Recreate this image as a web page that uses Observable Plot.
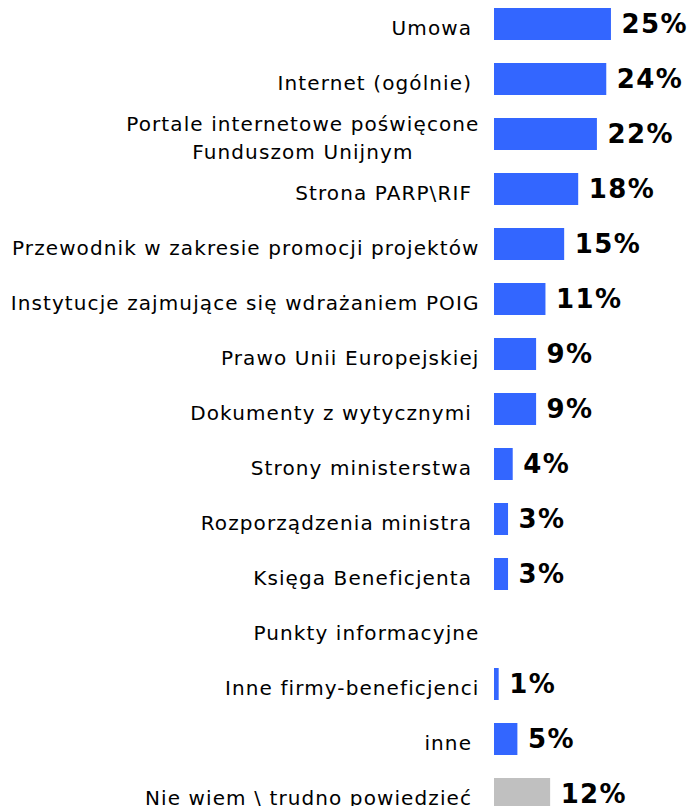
<!DOCTYPE html>
<html><head><meta charset="utf-8">
<script src="https://cdn.jsdelivr.net/npm/d3@7"></script>
<script src="https://cdn.jsdelivr.net/npm/@observablehq/plot@0.6"></script>
<style>
body{margin:0;background:#fff;}
#chart svg{font-family:"DejaVu Sans",Verdana,sans-serif;}
#chart [aria-label="y-axis tick label"] text{letter-spacing:1.1px;}
#chart [aria-label="text"] text{letter-spacing:1.4px;}
</style>
</head><body><div id="chart"></div>
<script>
const categories = [
  "Umowa ",
  "Internet (ogólnie) ",
  "Portale internetowe poświęcone\nFunduszom Unijnym",
  "Strona PARP\\RIF ",
  "Przewodnik w zakresie promocji projektów",
  "Instytucje zajmujące się wdrażaniem POIG",
  "Prawo Unii Europejskiej",
  "Dokumenty z wytycznymi ",
  "Strony ministerstwa ",
  "Rozporządzenia ministra ",
  "Księga Beneficjenta ",
  "Punkty informacyjne",
  "Inne firmy-beneficjenci",
  "inne ",
  "Nie wiem \\ trudno powiedzieć "
];
const values = [25, 24, 22, 18, 15, 11, 9, 9, 4, 3, 3, null, 1, 5, 12];
const groups = ["answer","answer","answer","answer","answer","answer","answer","answer","answer","answer","answer","answer","answer","answer","unsure"];
const groupNames = ["answer", "unsure"];
const groupColors = ["#3366FF", "#C0C0C0"];

const data = categories.map((c, i) => ({category: c, value: values[i], group: groups[i]}));
const shown = data.filter(d => d.value != null);

const chart = Plot.plot({
  width: 690,
  height: 806,
  marginLeft: 494,
  marginRight: 0,
  marginTop: 0,
  marginBottom: 0,
  x: {domain: [0, 41.9], axis: null},
  y: {domain: categories, range: [-3.5, 821.5], paddingInner: 0.418, paddingOuter: 0.209, axis: null},
  color: {domain: groupNames, range: groupColors},
  marks: [
    Plot.barX(shown, {x: "value", y: "category", fill: "group"}),
    Plot.text(shown, {x: "value", y: "category", text: d => `${d.value}%`, textAnchor: "start", dx: 10, fontSize: 26, fontWeight: "bold", fill: "#000"}),
    Plot.axisY({label: null, tickSize: 0, tickPadding: 15, fontSize: 20, dy: 2, lineHeight: 1.4, fill: "#000"})
  ]
});
document.getElementById("chart").append(chart);

const g = chart.querySelector('[aria-label="y-axis tick label"]');
if (g) {
  for (const t of g.querySelectorAll("text")) {
    const spans = t.querySelectorAll("tspan");
    if (spans.length > 1) {
      const w = Math.max(...[...spans].map(s => s.getComputedTextLength()));
      t.setAttribute("text-anchor", "middle");
      spans.forEach(s => s.setAttribute("x", -w / 2));
    }
  }
}
</script>
</body></html>
